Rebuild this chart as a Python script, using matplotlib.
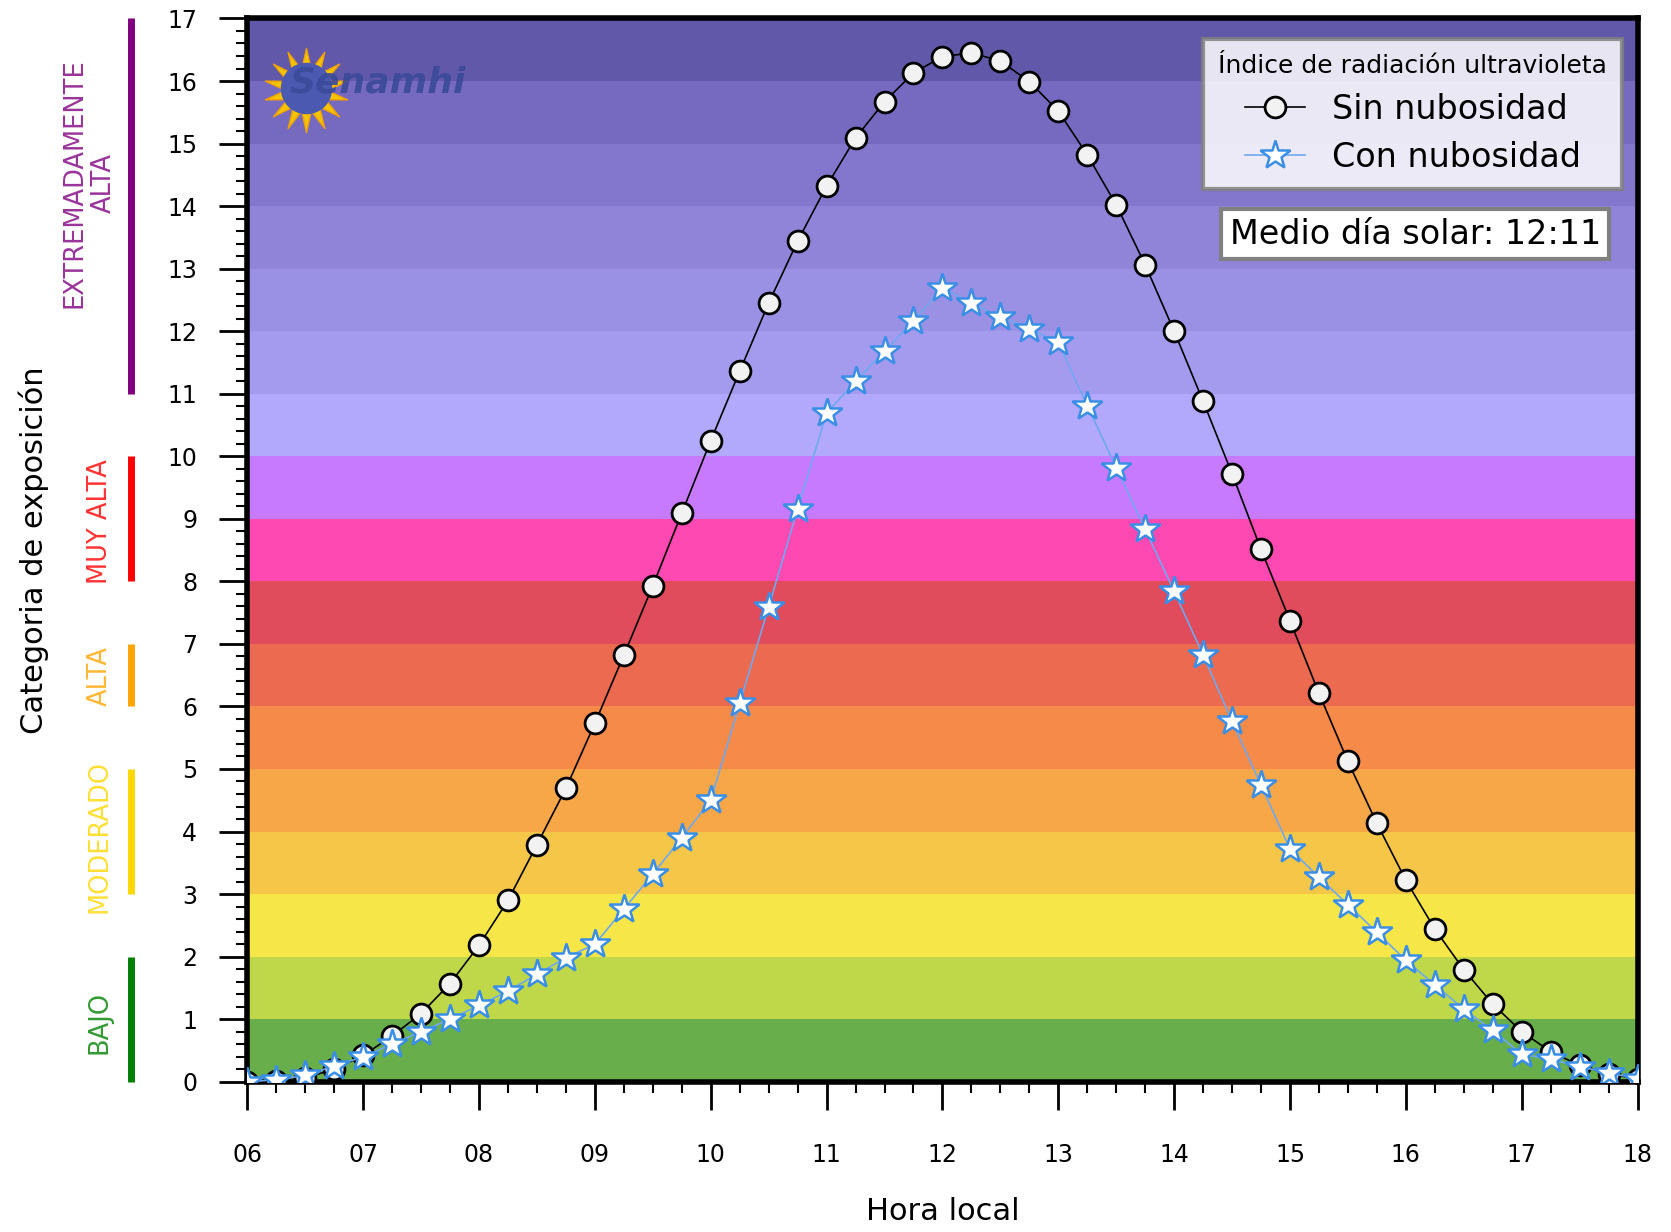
import matplotlib
matplotlib.use("Agg")
import matplotlib.pyplot as plt
from matplotlib.ticker import MultipleLocator, FixedLocator

# hora local cada 15 minutos (06:00 - 18:00)
horas = [6 + 0.25 * i for i in range(49)]

sin_nubosidad = [0.0, 0.01, 0.06, 0.2, 0.42, 0.73, 1.09, 1.57, 2.18, 2.9,
                 3.79, 4.69, 5.73, 6.82, 7.93, 9.09, 10.25, 11.36, 12.45, 13.44,
                 14.32, 15.09, 15.67, 16.13, 16.39, 16.45, 16.32, 15.99, 15.52, 14.82,
                 14.02, 13.06, 12.0, 10.88, 9.72, 8.51, 7.37, 6.21, 5.12, 4.13,
                 3.22, 2.44, 1.79, 1.24, 0.8, 0.48, 0.26, 0.12, 0.05]

con_nubosidad = [0.0, 0.03, 0.1, 0.25, 0.4, 0.6, 0.8, 1.0, 1.22, 1.45,
                 1.72, 1.98, 2.2, 2.76, 3.32, 3.9, 4.5, 6.05, 7.59, 9.16,
                 10.69, 11.2, 11.68, 12.17, 12.69, 12.45, 12.23, 12.04, 11.82, 10.81,
                 9.82, 8.83, 7.84, 6.82, 5.76, 4.74, 3.72, 3.27, 2.83, 2.39,
                 1.94, 1.55, 1.16, 0.82, 0.44, 0.36, 0.24, 0.14, 0.05]

hora_ticks = list(range(6, 19))
hora_labels = ["%02d" % h for h in hora_ticks]

# colores de fondo por cada unidad del indice UV (0-1, 1-2, ... 16-17)
bandas = ["#68AE4A", "#BED84A", "#F7E648", "#F6C648", "#F7A748", "#F68A48",
          "#EC6A50", "#E04C5C", "#FF49B2", "#C87AFF", "#B2A8FC", "#A59BEE",
          "#9B91E4", "#8F84D8", "#8277CD", "#766AC0", "#6258AA"]

# categorias de exposicion: (inicio, fin, texto, color, posicion del texto)
categorias = [
    (0, 2, "BAJO", "green", 0.94),
    (3, 5, "MODERADO", "gold", 3.92),
    (6, 7, "ALTA", "orange", 6.48),
    (8, 10, "MUY ALTA", "red", 8.95),
    (11, 17, "EXTREMADAMENTE\nALTA", "purple", 14.37),
]

fig = plt.figure(figsize=(16.71, 12.32), dpi=100)
ax = fig.add_axes([0.148, 0.122, 0.832, 0.863])

for i, c in enumerate(bandas):
    ax.axhspan(i, i + 1, color=c, lw=0, zorder=0)

ax.plot(horas, sin_nubosidad, color="black", lw=1.2, marker="o", ms=15,
        mfc="#F2F2F2", mec="black", mew=2, label="Sin nubosidad", zorder=3)
ax.plot(horas, con_nubosidad, color="#6FA8F0", lw=1.2, marker="*", ms=22,
        mfc="white", mec="#3A8EE6", mew=1.8, label="Con nubosidad", zorder=4)

ax.set_xlim(6, 18)
ax.set_ylim(0, 17)
ax.xaxis.set_major_locator(FixedLocator(hora_ticks))
ax.set_xticklabels(hora_labels)
ax.xaxis.set_minor_locator(MultipleLocator(0.25))
ax.yaxis.set_major_locator(MultipleLocator(1))
ax.yaxis.set_minor_locator(MultipleLocator(0.2))
ax.tick_params(which="major", direction="out", length=20, width=2, labelsize=17)
ax.tick_params(axis="x", which="major", pad=24)
ax.tick_params(axis="y", which="major", pad=16)
ax.tick_params(which="minor", direction="out", length=8, width=1.5)
for s in ax.spines.values():
    s.set_linewidth(4)

ax.set_xlabel("Hora local", fontsize=22, labelpad=22)
ax.set_ylabel("Categoria de exposición", fontsize=22, labelpad=85)

# barras y etiquetas de categorias a la izquierda
trans = ax.get_yaxis_transform()
for y0, y1, txt, col, ytxt in categorias:
    ax.plot([-0.084, -0.084], [y0, y1], color=col, lw=5, transform=trans,
            clip_on=False, solid_capstyle="butt")
    ax.text(-0.106 if "\n" not in txt else -0.114, ytxt, txt, color=col, alpha=0.8,
            rotation=90, ha="center", va="center", fontsize=18.5,
            multialignment="center", linespacing=1.15,
            transform=trans, clip_on=False)

leg = ax.legend(loc="upper right", bbox_to_anchor=(0.989, 0.981), borderaxespad=0,
                title="Índice de radiación ultravioleta", title_fontsize=18,
                fontsize=24, frameon=True, fancybox=False, framealpha=0.85,
                edgecolor="gray", facecolor="white", handlelength=1.8,
                labelspacing=0.45, borderpad=0.45)
leg.get_frame().set_linewidth(3)

ax.text(0.84, 0.797, "Medio día solar: 12:11", transform=ax.transAxes,
        fontsize=24, ha="center", va="center", zorder=6,
        bbox=dict(boxstyle="square,pad=0.25", fc="white", ec="gray", lw=3))

# logo aproximado
ax.scatter([0.042], [0.933], s=3700, marker=(14, 1, 0), color="#F5C400",
           edgecolor="#F0A000", transform=ax.transAxes, zorder=5, clip_on=False)
ax.scatter([0.042], [0.935], s=1300, marker="o", color="#4B5AB0",
           transform=ax.transAxes, zorder=5)
ax.text(0.03, 0.94, "Senamhi", transform=ax.transAxes, fontsize=26,
        style="italic", weight="bold", color="#3B4A9A", alpha=0.9,
        ha="left", va="center", zorder=6)

fig.savefig("out.png", dpi=100)
